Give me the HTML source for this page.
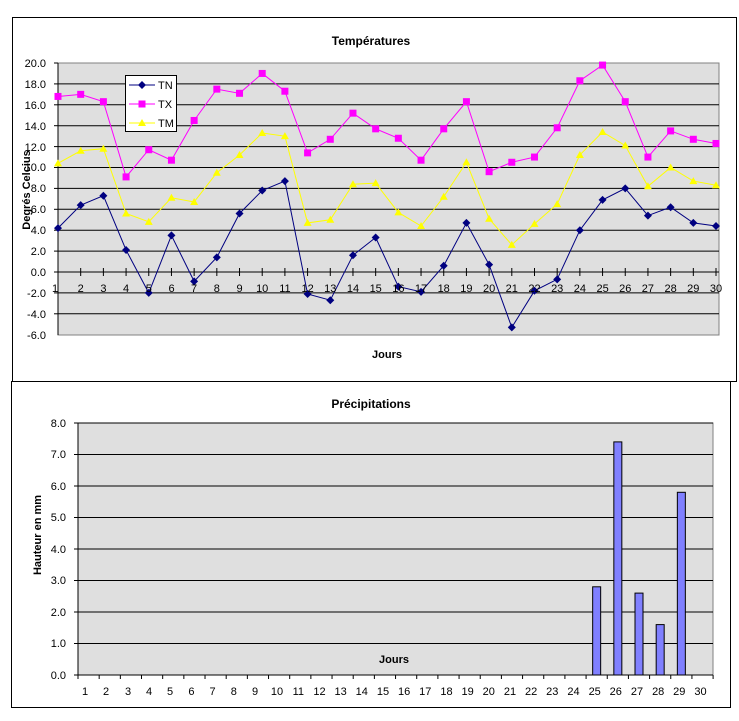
<!DOCTYPE html>
<html><head><meta charset="utf-8"><style>body{margin:0;background:#fff}svg{display:block}text{font-family:"Liberation Sans",Arial,sans-serif;font-size:11px;fill:#000}</style></head><body>
<svg id="s" width="739" height="721" xmlns="http://www.w3.org/2000/svg">
<rect x="12.5" y="17.5" width="724" height="364" fill="#fff" stroke="#000"/>
<rect x="11.5" y="381.5" width="719" height="326" fill="#fff" stroke="#000"/>
<rect x="58" y="63" width="661" height="272" fill="#dfdfdf" stroke="#808080"/>
<rect x="78" y="423" width="635" height="252" fill="#dfdfdf" stroke="#808080"/>
<g id="g"></g>
<text x="371" y="45" text-anchor="middle" font-weight="bold" style="font-size:12px">Températures</text>
<text x="371" y="408" text-anchor="middle" font-weight="bold" style="font-size:12px">Précipitations</text>
<text x="387" y="358" text-anchor="middle" font-weight="bold">Jours</text>
<text x="394" y="663" text-anchor="middle" font-weight="bold">Jours</text>
<text transform="translate(30,190) rotate(-90)" text-anchor="middle" font-weight="bold">Degrés Celcius</text>
<text transform="translate(41,535) rotate(-90)" text-anchor="middle" font-weight="bold">Hauteur en mm</text>
<g text-anchor="end">
<text x="46" y="67">20.0</text><text x="46" y="88">18.0</text><text x="46" y="109">16.0</text><text x="46" y="130">14.0</text><text x="46" y="151">12.0</text><text x="46" y="171">10.0</text><text x="46" y="192">8.0</text><text x="46" y="213">6.0</text><text x="46" y="234">4.0</text><text x="46" y="255">2.0</text><text x="46" y="276">0.0</text><text x="46" y="297">-2.0</text><text x="46" y="318">-4.0</text><text x="46" y="339">-6.0</text>
<text x="66" y="427">8.0</text><text x="66" y="458">7.0</text><text x="66" y="490">6.0</text><text x="66" y="521">5.0</text><text x="66" y="553">4.0</text><text x="66" y="584">3.0</text><text x="66" y="616">2.0</text><text x="66" y="647">1.0</text><text x="66" y="679">0.0</text>
</g>
<g text-anchor="middle">
<text x="55" y="292">1</text><text x="80.7" y="292">2</text><text x="103.4" y="292">3</text><text x="126.1" y="292">4</text><text x="148.8" y="292">5</text><text x="171.5" y="292">6</text><text x="194.1" y="292">7</text><text x="216.8" y="292">8</text><text x="239.5" y="292">9</text><text x="262.2" y="292">10</text><text x="284.9" y="292">11</text><text x="307.6" y="292">12</text><text x="330.3" y="292">13</text><text x="353" y="292">14</text><text x="375.7" y="292">15</text><text x="398.4" y="292">16</text><text x="421" y="292">17</text><text x="443.7" y="292">18</text><text x="466.4" y="292">19</text><text x="489.1" y="292">20</text><text x="511.8" y="292">21</text><text x="534.5" y="292">22</text><text x="557.2" y="292">23</text><text x="579.9" y="292">24</text><text x="602.6" y="292">25</text><text x="625.3" y="292">26</text><text x="647.9" y="292">27</text><text x="670.6" y="292">28</text><text x="693.3" y="292">29</text><text x="716" y="292">30</text>
<text x="85" y="695">1</text><text x="106" y="695">2</text><text x="128" y="695">3</text><text x="149" y="695">4</text><text x="170" y="695">5</text><text x="191.4" y="695">6</text><text x="212.6" y="695">7</text><text x="233.8" y="695">8</text><text x="255" y="695">9</text><text x="277" y="695">10</text><text x="298.3" y="695">11</text><text x="319.5" y="695">12</text><text x="340.6" y="695">13</text><text x="361.8" y="695">14</text><text x="383" y="695">15</text><text x="404.1" y="695">16</text><text x="425.3" y="695">17</text><text x="446.5" y="695">18</text><text x="467.6" y="695">19</text><text x="488.8" y="695">20</text><text x="510" y="695">21</text><text x="531.1" y="695">22</text><text x="552.3" y="695">23</text><text x="573.5" y="695">24</text><text x="594.7" y="695">25</text><text x="615.8" y="695">26</text><text x="637" y="695">27</text><text x="658.2" y="695">28</text><text x="679.3" y="695">29</text><text x="700.5" y="695">30</text>
</g>
<g id="leg"></g>
<text x="158" y="89">TN</text><text x="158" y="108">TX</text><text x="158" y="127">TM</text>
</svg>
<script>
var g=document.getElementById('g'),h='';
var TN=[4.2,6.4,7.3,2.1,-2.0,3.5,-0.9,1.4,5.6,7.8,8.7,-2.1,-2.7,1.6,3.3,-1.4,-1.9,0.6,4.7,0.7,-5.3,-1.8,-0.7,4.0,6.9,8.0,5.4,6.2,4.7,4.4];
var TX=[16.8,17.0,16.3,9.1,11.7,10.7,14.5,17.5,17.1,19.0,17.3,11.4,12.7,15.2,13.7,12.8,10.7,13.7,16.3,9.6,10.5,11.0,13.8,18.3,19.8,16.3,11.0,13.5,12.7,12.3];
var TM=[10.4,11.6,11.8,5.6,4.8,7.1,6.7,9.5,11.2,13.3,13.0,4.7,5.0,8.4,8.5,5.7,4.4,7.2,10.5,5.1,2.6,4.6,6.5,11.2,13.4,12.1,8.2,10.0,8.7,8.3];
function X(i){return 58+i*22.69}function Y(v){return 63+(20-v)*10.45}
for(var k=0;k<13;k++){var y=Y(20-2*k);if(k)h+='<line x1="58" x2="719" y1="'+y+'" y2="'+y+'" stroke="#000"/>';h+='<line x1="54" x2="58" y1="'+y+'" y2="'+y+'" stroke="#000"/>';}
h+='<line x1="58" x2="58" y1="63" y2="335" stroke="#000"/><line x1="58" x2="719" y1="'+Y(0)+'" y2="'+Y(0)+'" stroke="#000"/>';
for(var i=0;i<30;i++)h+='<line x1="'+X(i)+'" x2="'+X(i)+'" y1="'+(Y(0)-4)+'" y2="'+(Y(0)+4)+'" stroke="#000"/>';
for(var k=1;k<=8;k++){var y=423+(8-k)*31.5;h+='<line x1="78" x2="713" y1="'+y+'" y2="'+y+'" stroke="#000"/>';}
for(var k=0;k<=8;k++){var y=423+k*31.5;h+='<line x1="74" x2="78" y1="'+y+'" y2="'+y+'" stroke="#000"/>';}
h+='<line x1="78" x2="78" y1="423" y2="675" stroke="#000"/><line x1="78" x2="713" y1="675" y2="675" stroke="#000"/>';
for(var i=0;i<=30;i++){var x=78+i*21.17;h+='<line x1="'+x+'" x2="'+x+'" y1="675" y2="679" stroke="#000"/>';}
var P={25:2.8,26:7.4,27:2.6,28:1.6,29:5.8};
for(var d in P){var c=78+(d-0.5)*21.17,t=675-P[d]*31.5;h+='<rect x="'+(c-4)+'" y="'+t+'" width="8" height="'+(675-t)+'" fill="#8080ff" stroke="#000"/>';}
function line(a,col){var p=a.map(function(v,i){return X(i)+','+Y(v)}).join(' ');h+='<polyline points="'+p+'" fill="none" stroke="'+col+'"/>';}
line(TN,'#000080');line(TX,'#ff00ff');line(TM,'#ffff00');
function dia(x,y){return '<polygon points="'+x+','+(y-4)+' '+(x+4)+','+y+' '+x+','+(y+4)+' '+(x-4)+','+y+'" fill="#000080"/>'}
function sq(x,y){return '<rect x="'+(x-3.5)+'" y="'+(y-3.5)+'" width="7" height="7" fill="#ff00ff"/>'}
function tri(x,y){return '<polygon points="'+x+','+(y-4)+' '+(x+4)+','+(y+3)+' '+(x-4)+','+(y+3)+'" fill="#ffff00"/>'}
for(var i=0;i<30;i++){h+=dia(X(i),Y(TN[i]))+sq(X(i),Y(TX[i]))+tri(X(i),Y(TM[i]));}
g.innerHTML=h;
var l='<rect x="125.5" y="75.5" width="51" height="56" fill="#fff" stroke="#000"/>';
l+='<line x1="129" x2="155" y1="85" y2="85" stroke="#000080"/>'+dia(142,85);
l+='<line x1="129" x2="155" y1="104" y2="104" stroke="#ff00ff"/>'+sq(142,104);
l+='<line x1="129" x2="155" y1="123" y2="123" stroke="#ffff00"/>'+tri(142,123);
document.getElementById('leg').innerHTML=l;
</script>
</body></html>
